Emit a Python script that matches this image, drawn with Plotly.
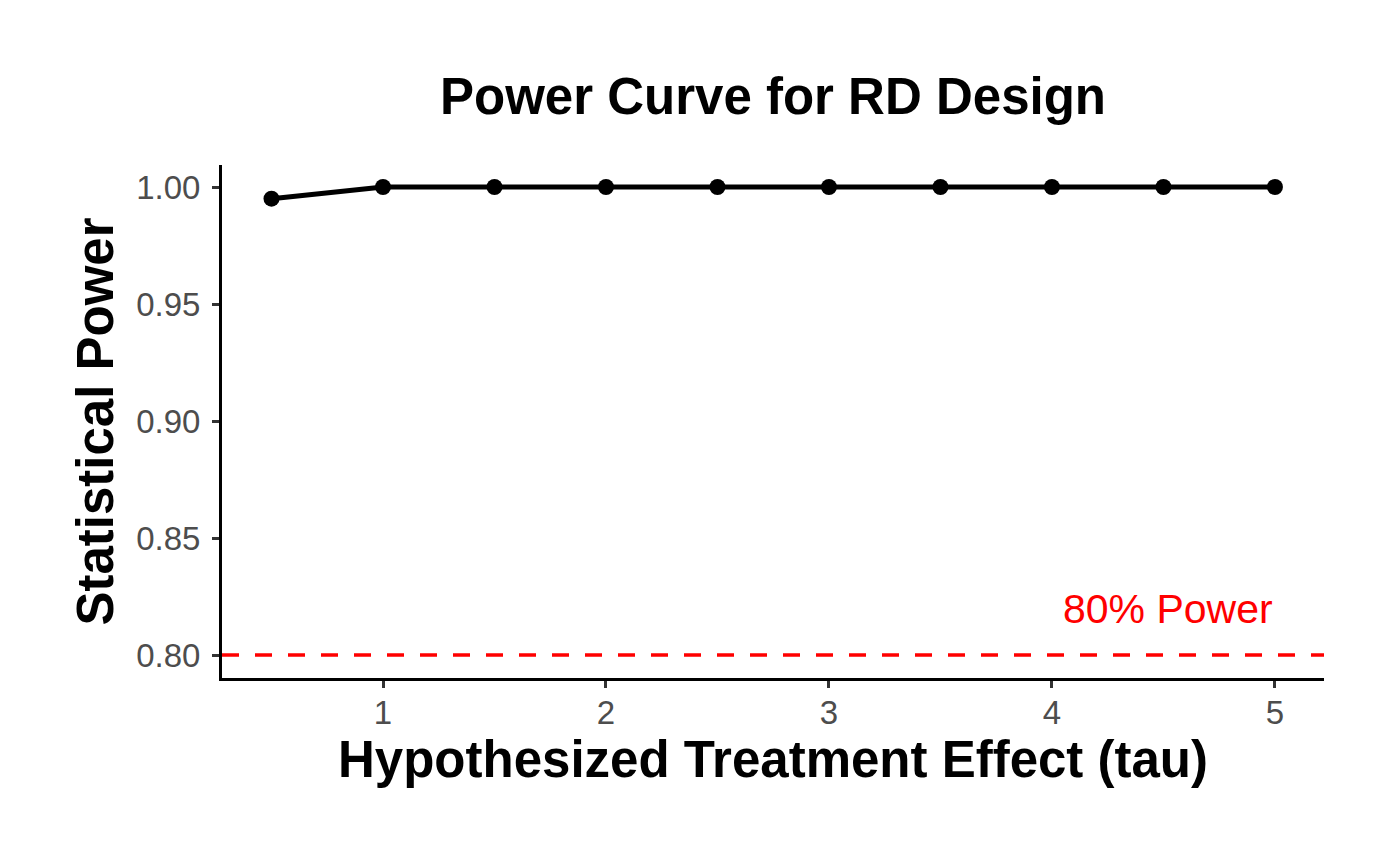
import plotly.graph_objects as go

tau = [0.5, 1.0, 1.5, 2.0, 2.5, 3.0, 3.5, 4.0, 4.5, 5.0]
power = [0.995, 1.0, 1.0, 1.0, 1.0, 1.0, 1.0, 1.0, 1.0, 1.0]
x_ticks = [1, 2, 3, 4, 5]
y_ticks = [0.80, 0.85, 0.90, 0.95, 1.00]
y_tick_labels = ["0.80", "0.85", "0.90", "0.95", "1.00"]
threshold = 0.80
threshold_label = "80% Power"

FONT = "Liberation Sans, Arial, Helvetica, sans-serif"

L, T, PW, PH = 214, 157, 1102, 513

fig = go.Figure()
fig.add_trace(go.Scatter(
    x=tau, y=power, mode="lines+markers",
    line=dict(color="black", width=5),
    marker=dict(color="black", size=16),
    showlegend=False, cliponaxis=False,
))

fig.add_shape(type="line", xref="paper", x0=0, x1=1, yref="y", y0=threshold, y1=threshold,
              line=dict(color="red", width=3.5, dash="17px,16px"))

fig.add_annotation(x=5, y=0.8195, xref="x", yref="y", text=threshold_label,
                   showarrow=False, xanchor="right", yanchor="middle",
                   font=dict(color="red", size=41, family=FONT))

fig.update_layout(
    width=1400, height=865,
    paper_bgcolor="white", plot_bgcolor="white",
    margin=dict(l=L, r=1400 - L - PW, t=T, b=865 - T - PH),
    font=dict(family=FONT),
    title=dict(text="<b>Power Curve for RD Design</b>", x=(L + PW / 2) / 1400, xanchor="center",
               y=1 - 88 / 865, yanchor="middle", font=dict(size=51, color="black", family=FONT)),
)
fig.update_xaxes(
    range=[0.278, 5.22], tickvals=x_ticks, ticktext=[str(v) for v in x_ticks],
    showline=True, linecolor="black", linewidth=3, showgrid=False, zeroline=False,
    ticks="outside", ticklen=7, tickwidth=3, tickcolor="#333333",
    ticklabelstandoff=-4,
    tickfont=dict(size=33, color="#4D4D4D", family=FONT),
    title=dict(text="<b>Hypothesized Treatment Effect (tau)</b>", standoff=7,
               font=dict(size=51, color="black", family=FONT)),
)
fig.update_yaxes(
    range=[0.7902, 1.0094], tickvals=y_ticks, ticktext=y_tick_labels,
    showline=True, linecolor="black", linewidth=3, showgrid=False, zeroline=False,
    ticks="outside", ticklen=7, tickwidth=3, tickcolor="#333333",
    ticklabelstandoff=5,
    tickfont=dict(size=33, color="#4D4D4D", family=FONT),
    title=dict(text="<b>Statistical Power</b>", standoff=7,
               font=dict(size=51, color="black", family=FONT)),
)

fig.write_html("out.html")
